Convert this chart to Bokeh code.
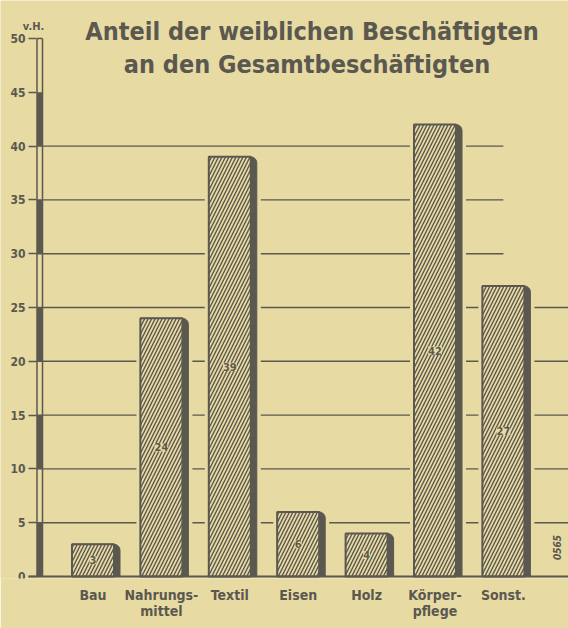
import math
from bokeh.plotting import figure
from bokeh.models import Range1d, FixedTicker, Label
from bokeh.core.properties import value
from bokeh.embed import file_html
from bokeh.resources import INLINE

# ---------------- data ----------------
categories = ["Bau", "Nahrungsmittel", "Textil", "Eisen", "Holz", "Körperpflege", "Sonst."]
category_labels = ["Bau", "Nahrungs-\nmittel", "Textil", "Eisen", "Holz", "Körper-\npflege", "Sonst."]
shares = [3, 24, 39, 6, 4, 42, 27]
y_ticks = [0, 5, 10, 15, 20, 25, 30, 35, 40, 45, 50]
grid_values = [5, 10, 15, 20, 25, 30, 35, 40]
title_lines = ["Anteil der weiblichen Beschäftigten", "an den Gesamtbeschäftigten"]
unit_label = "v.H."
plate_code = "0565"

# ---------------- style ----------------
BG = "#e7daa3"
INK = "#5b5850"
TITLE_FONT = "DejaVu Sans Condensed"
LABEL_FONT = "Liberation Sans Narrow, DejaVu Sans Condensed, sans-serif"

W, H = 568, 628
AXIS_PX = 36          # pixel column of the value axis
BOTTOM = 50
PXX = 68.4            # pixels per category step
PXY = 10.76           # pixels per unit (v.H.)


def X(rx):
    """pixel column -> data x"""
    return (rx - 92.5) / PXX


def Y(ry):
    """pixel row -> data y"""
    return (576 - ry) / PXY


def dx(px):
    return px / PXX


p = figure(width=W, height=H, output_backend="svg", toolbar_location=None,
           x_range=Range1d(X(0), X(W)), y_range=Range1d(Y(H - BOTTOM), Y(0)),
           min_border_left=0, min_border_right=0, min_border_top=0,
           min_border_bottom=BOTTOM, background_fill_color=BG,
           border_fill_color=BG, outline_line_color=None)
p.xgrid.visible = False
p.ygrid.visible = False

xs = list(range(len(categories)))
half = dx(21)
shadow = dx(6)
gap = dx(4)
x_axis = X(AXIS_PX)

# grid lines (upper ones stop at the last bar's centre)
g_x0 = [x_axis for _ in grid_values]
g_x1 = [X(W) if g <= 25 else xs[-1] for g in grid_values]
p.segment(x0=g_x0, y0=grid_values, x1=g_x1, y1=grid_values,
          line_color=INK, line_width=1.4)

# clearing behind bars (gaps in grid lines)
p.quad(left=[x - half - gap for x in xs], right=[x + half + shadow + gap for x in xs],
       bottom=[0] * len(xs), top=[v + 0.4 for v in shares],
       fill_color=BG, line_color=None)

# shadows
p.quad(left=[x - half for x in xs], right=[x + half + shadow for x in xs],
       bottom=[0] * len(xs), top=shares, fill_color=INK, line_color=INK,
       line_width=1, border_radius=(0, 6, 0, 0))

# front faces
p.quad(left=[x - half for x in xs], right=[x + half for x in xs],
       bottom=[0] * len(xs), top=shares, fill_color=BG,
       hatch_pattern="/", hatch_color=INK, hatch_scale=7, hatch_weight=1.4,
       line_color=INK, line_width=2)

# value labels inside bars
p.text(x=xs, y=[v / 2 for v in shares], text=[str(v) for v in shares],
       text_align="center", text_baseline="middle",
       text_font=value(LABEL_FONT), text_font_style="bold",
       text_font_size="11px", text_color=INK, background_fill_color=BG)

# baseline
p.segment(x0=[X(AXIS_PX - 8)], y0=[0], x1=[X(W)], y1=[0], line_color=INK, line_width=2)

# double axis rail with alternate filled segments
ax0 = X(AXIS_PX + 0.5)
ax1 = X(AXIS_PX + 6)
seg_lo = [k for k in y_ticks[:-1] if k % 10 == 0]
p.quad(left=[ax0] * len(seg_lo), right=[ax1] * len(seg_lo), bottom=seg_lo,
       top=[k + 5 for k in seg_lo], fill_color=INK, line_color=None)
p.segment(x0=[ax0, ax1], y0=[0, 0], x1=[ax0, ax1], y1=[y_ticks[-1]] * 2,
          line_color=INK, line_width=1.5)
p.segment(x0=[ax0], y0=[y_ticks[-1]], x1=[ax1], y1=[y_ticks[-1]],
          line_color=INK, line_width=1.5)

# value axis placed at the rail
p.yaxis.fixed_location = x_axis
p.yaxis.ticker = FixedTicker(ticks=y_ticks)
p.yaxis.axis_line_color = None
p.yaxis.major_tick_in = 0
p.yaxis.major_tick_out = 8
p.yaxis.minor_tick_line_color = None
p.yaxis.major_tick_line_color = INK
p.yaxis.major_tick_line_width = 1.5
p.yaxis.major_label_standoff = 3
p.yaxis.major_label_text_font = LABEL_FONT
p.yaxis.major_label_text_font_style = "bold"
p.yaxis.major_label_text_font_size = "12px"
p.yaxis.major_label_text_color = INK

# category axis
p.xaxis.ticker = FixedTicker(ticks=xs)
p.xaxis.major_label_overrides = {x: lab for x, lab in zip(xs, category_labels)}
p.xaxis.axis_line_color = None
p.xaxis.major_tick_in = 0
p.xaxis.major_tick_out = 0
p.xaxis.minor_tick_line_color = None
p.xaxis.major_label_standoff = 8
p.xaxis.major_label_text_font = LABEL_FONT
p.xaxis.major_label_text_font_style = "bold"
p.xaxis.major_label_text_font_size = "14px"
p.xaxis.major_label_text_color = INK
p.xaxis.major_label_text_line_height = 1.05

# title
p.add_layout(Label(x=X(311.5), y=Y(31), text=title_lines[0], text_align="center",
                   text_baseline="alphabetic", text_font=TITLE_FONT,
                   text_font_style="bold", text_font_size="25px", text_color=INK))
p.add_layout(Label(x=X(306.5), y=Y(64), text=title_lines[1], text_align="center",
                   text_baseline="alphabetic", text_font=TITLE_FONT,
                   text_font_style="bold", text_font_size="25px", text_color=INK))

# unit label
p.add_layout(Label(x=X(33), y=Y(26), text=unit_label, text_align="center",
                   text_baseline="alphabetic", text_font=LABEL_FONT,
                   text_font_style="bold", text_font_size="11px", text_color=INK))

# plate code
p.add_layout(Label(x=X(556), y=Y(547), text=plate_code, text_align="center",
                   text_baseline="middle", angle=math.pi / 2, text_font=LABEL_FONT,
                   text_font_style="bold italic", text_font_size="10px", text_color=INK))

open("out.html", "w").write(file_html(p, INLINE))
